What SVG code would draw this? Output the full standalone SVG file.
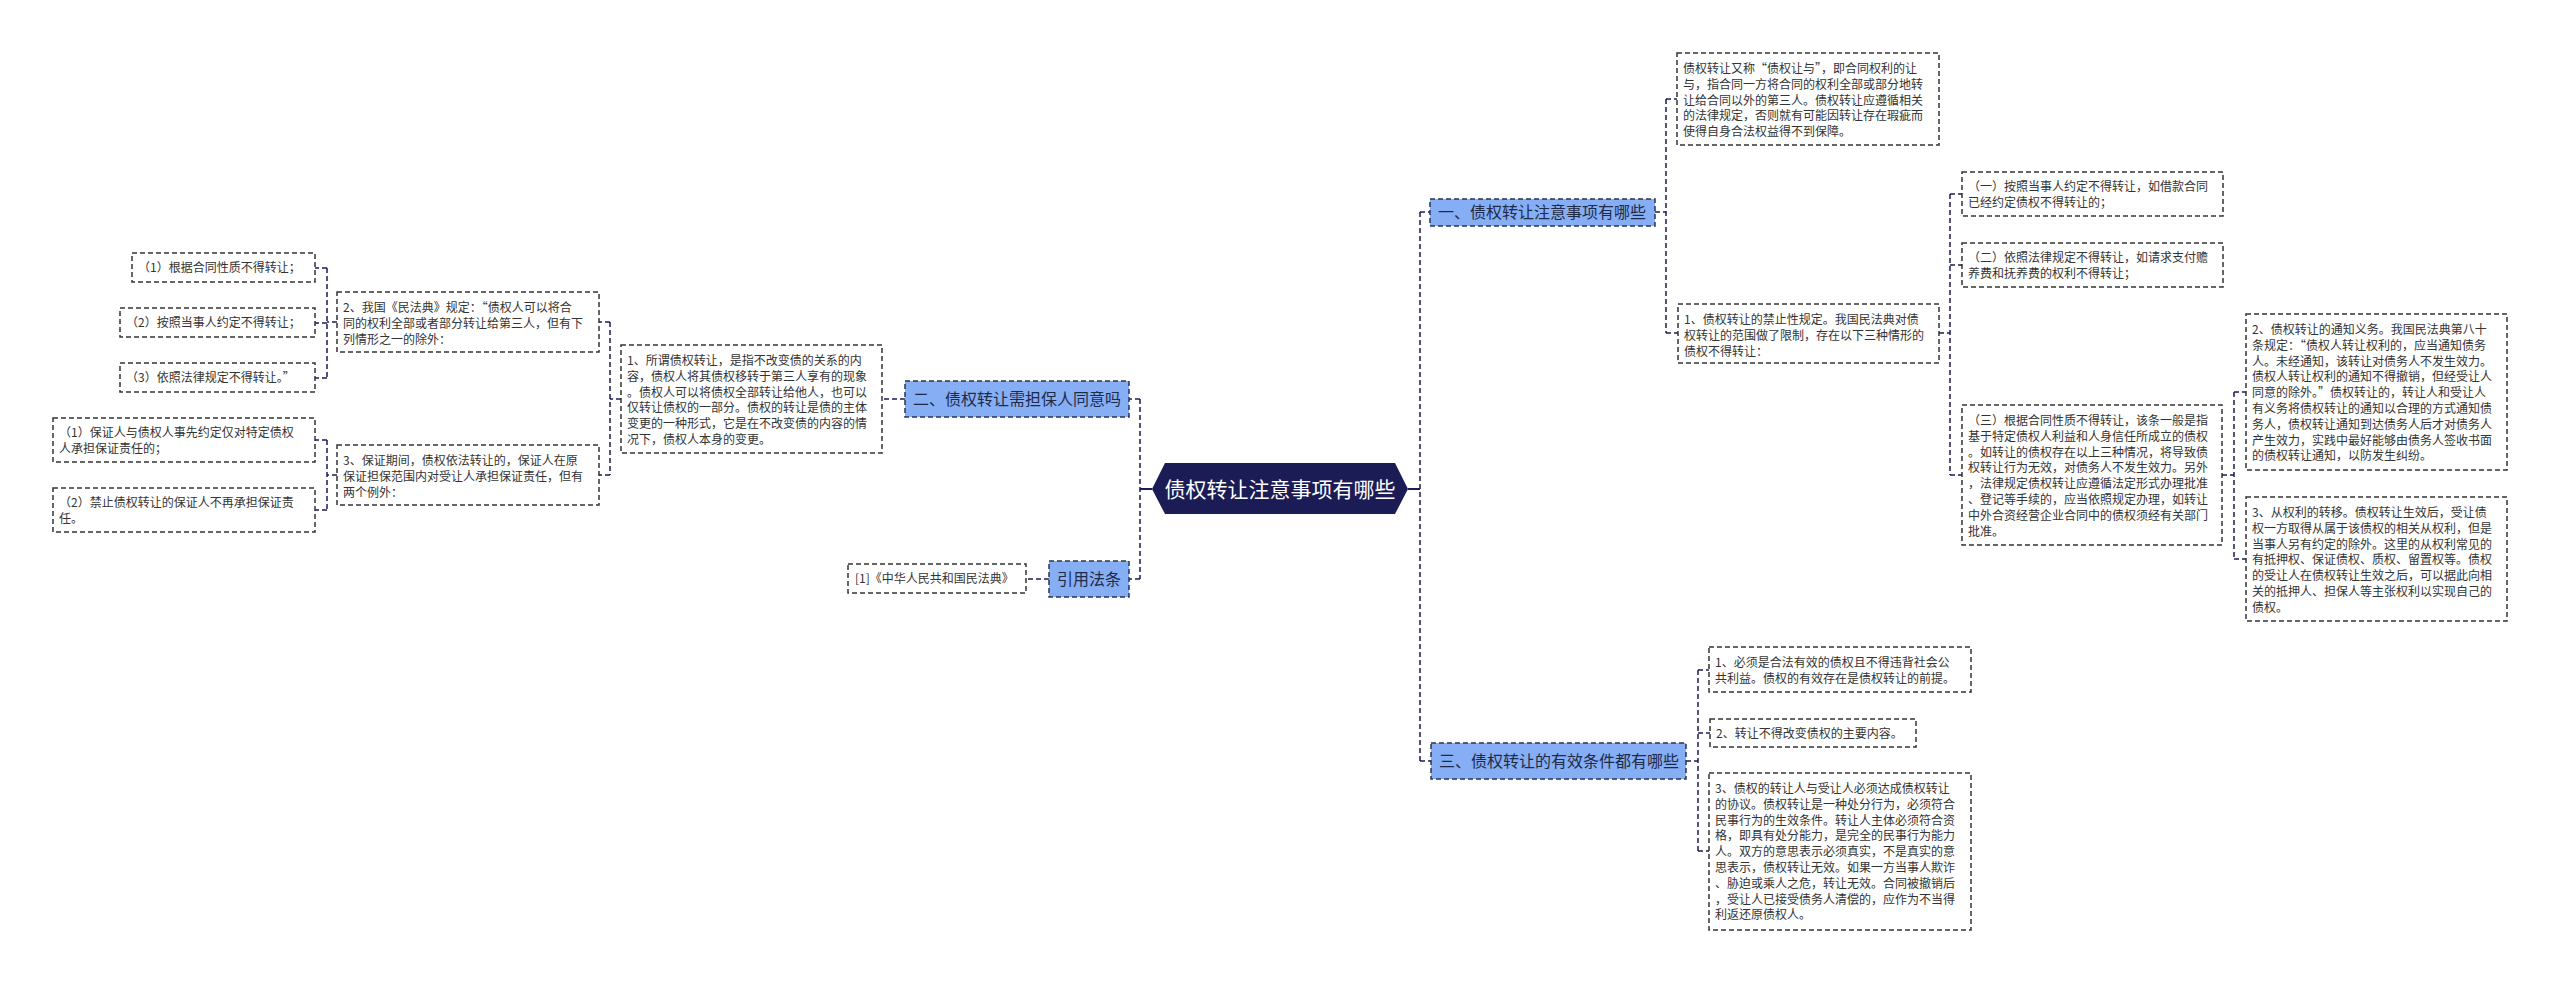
<svg xmlns="http://www.w3.org/2000/svg" width="2560" height="983" viewBox="0 0 2560 983">
<style>
.b{fill:#fff;stroke:#333;stroke-width:1.5;stroke-dasharray:5 3}
.h{fill:#86aef5;stroke:#2a3550;stroke-width:1.5;stroke-dasharray:5 3}
.t{font-family:"Noto Sans CJK SC","Liberation Sans",sans-serif;font-size:12px;fill:#333}
.ht{font-family:"Noto Sans CJK SC","Liberation Sans",sans-serif;font-size:16px;fill:#1f2a48}
.c{fill:none;stroke:#1b1b55;stroke-width:1.5;stroke-dasharray:5 3}
.s{fill:none;stroke:#1b1b55;stroke-width:2}
</style>
<rect width="2560" height="983" fill="#fff"/>
<g id="connectors">
<path class="s" d="M1152 489H1140M1408 489H1420"/>
<path class="c" d="M1140 399V579M1140 399H1129M1140 579H1129"/>
<path class="c" d="M1420 212V761M1420 212H1430M1420 761H1431"/>
<path class="c" d="M1655 212H1666M1666 99V333M1666 99H1677M1666 333H1678"/>
<path class="c" d="M1939 333H1950M1950 194V475M1950 194H1962M1950 265H1962M1950 475H1962"/>
<path class="c" d="M2222 475H2234M2234 392V559M2234 392H2246M2234 559H2246"/>
<path class="c" d="M1686 761H1698M1698 670V851M1698 670H1709M1698 733H1710M1698 851H1709"/>
<path class="c" d="M905 399H882"/>
<path class="c" d="M621 399H610M610 322V475M610 322H599M610 475H599"/>
<path class="c" d="M337 322H327M327 268V378M327 268H315M327 323H315M327 378H315"/>
<path class="c" d="M337 475H327M327 440V510M327 440H315M327 510H315"/>
<path class="c" d="M1049 579H1026"/>
</g>
<g id="root">
<polygon points="1165,463 1395,463 1408,489 1395,514 1165,514 1152,489" fill="#1b1b55"/>
<text x="1280" y="497" text-anchor="middle" font-family="Noto Sans CJK SC,Liberation Sans,sans-serif" font-size="21" fill="#fff">债权转让注意事项有哪些</text>
</g>
<g id="n1"><rect class="h" x="1430" y="199" width="225" height="27"/><text class="ht" x="1438" y="218">一、债权转让注意事项有哪些</text></g>
<g id="n2"><rect class="h" x="905" y="381" width="224" height="36"/><text class="ht" x="913" y="405">二、债权转让需担保人同意吗</text></g>
<g id="n3"><rect class="h" x="1431" y="743" width="255" height="36"/><text class="ht" x="1439" y="767">三、债权转让的有效条件都有哪些</text></g>
<g id="n4"><rect class="h" x="1049" y="561" width="80" height="36"/><text class="ht" x="1057" y="585">引用法条</text></g>
<g id="ref1"><rect class="b" x="848" y="564" width="178" height="29"/><text class="t" x="855" y="583">[1]《中华人民共和国民法典》</text></g>
<g id="A"><rect class="b" x="1677" y="53" width="262" height="92"/><text class="t" x="1683" y="73"><tspan x="1683">债权转让又称“债权让与”，即合同权利的让</tspan><tspan x="1683" dy="15.8">与，指合同一方将合同的权利全部或部分地转</tspan><tspan x="1683" dy="15.8">让给合同以外的第三人。债权转让应遵循相关</tspan><tspan x="1683" dy="15.8">的法律规定，否则就有可能因转让存在瑕疵而</tspan><tspan x="1683" dy="15.8">使得自身合法权益得不到保障。</tspan></text></g>
<g id="B"><rect class="b" x="1678" y="304" width="261" height="59"/><text class="t" x="1684" y="324"><tspan x="1684">1、债权转让的禁止性规定。我国民法典对债</tspan><tspan x="1684" dy="15.8">权转让的范围做了限制，存在以下三种情形的</tspan><tspan x="1684" dy="15.8">债权不得转让：</tspan></text></g>
<g id="B1"><rect class="b" x="1962" y="172" width="261" height="44"/><text class="t" x="1968" y="191"><tspan x="1968">（一）按照当事人约定不得转让，如借款合同</tspan><tspan x="1968" dy="15.8">已经约定债权不得转让的；</tspan></text></g>
<g id="B2"><rect class="b" x="1962" y="243" width="261" height="44"/><text class="t" x="1968" y="262"><tspan x="1968">（二）依照法律规定不得转让，如请求支付赡</tspan><tspan x="1968" dy="15.8">养费和抚养费的权利不得转让；</tspan></text></g>
<g id="B3"><rect class="b" x="1962" y="405" width="260" height="140"/><text class="t" x="1968" y="425"><tspan x="1968">（三）根据合同性质不得转让，该条一般是指</tspan><tspan x="1968" dy="15.8">基于特定债权人利益和人身信任所成立的债权</tspan><tspan x="1968" dy="15.8">。如转让的债权存在以上三种情况，将导致债</tspan><tspan x="1968" dy="15.8">权转让行为无效，对债务人不发生效力。另外</tspan><tspan x="1968" dy="15.8">，法律规定债权转让应遵循法定形式办理批准</tspan><tspan x="1968" dy="15.8">、登记等手续的，应当依照规定办理，如转让</tspan><tspan x="1968" dy="15.8">中外合资经营企业合同中的债权须经有关部门</tspan><tspan x="1968" dy="15.8">批准。</tspan></text></g>
<g id="C1"><rect class="b" x="2246" y="314" width="261" height="156"/><text class="t" x="2252" y="334"><tspan x="2252">2、债权转让的通知义务。我国民法典第八十</tspan><tspan x="2252" dy="15.8">条规定：“债权人转让权利的，应当通知债务</tspan><tspan x="2252" dy="15.8">人。未经通知，该转让对债务人不发生效力。</tspan><tspan x="2252" dy="15.8">债权人转让权利的通知不得撤销，但经受让人</tspan><tspan x="2252" dy="15.8">同意的除外。”债权转让的，转让人和受让人</tspan><tspan x="2252" dy="15.8">有义务将债权转让的通知以合理的方式通知债</tspan><tspan x="2252" dy="15.8">务人，债权转让通知到达债务人后才对债务人</tspan><tspan x="2252" dy="15.8">产生效力，实践中最好能够由债务人签收书面</tspan><tspan x="2252" dy="15.8">的债权转让通知，以防发生纠纷。</tspan></text></g>
<g id="C2"><rect class="b" x="2246" y="497" width="261" height="124"/><text class="t" x="2252" y="517"><tspan x="2252">3、从权利的转移。债权转让生效后，受让债</tspan><tspan x="2252" dy="15.8">权一方取得从属于该债权的相关从权利，但是</tspan><tspan x="2252" dy="15.8">当事人另有约定的除外。这里的从权利常见的</tspan><tspan x="2252" dy="15.8">有抵押权、保证债权、质权、留置权等。债权</tspan><tspan x="2252" dy="15.8">的受让人在债权转让生效之后，可以据此向相</tspan><tspan x="2252" dy="15.8">关的抵押人、担保人等主张权利以实现自己的</tspan><tspan x="2252" dy="15.8">债权。</tspan></text></g>
<g id="D1"><rect class="b" x="1709" y="647" width="262" height="45"/><text class="t" x="1715" y="667"><tspan x="1715">1、必须是合法有效的债权且不得违背社会公</tspan><tspan x="1715" dy="15.8">共利益。债权的有效存在是债权转让的前提。</tspan></text></g>
<g id="D2"><rect class="b" x="1710" y="719" width="206" height="28"/><text class="t" x="1716" y="738">2、转让不得改变债权的主要内容。</text></g>
<g id="D3"><rect class="b" x="1709" y="773" width="262" height="157"/><text class="t" x="1715" y="793"><tspan x="1715">3、债权的转让人与受让人必须达成债权转让</tspan><tspan x="1715" dy="15.8">的协议。债权转让是一种处分行为，必须符合</tspan><tspan x="1715" dy="15.8">民事行为的生效条件。转让人主体必须符合资</tspan><tspan x="1715" dy="15.8">格，即具有处分能力，是完全的民事行为能力</tspan><tspan x="1715" dy="15.8">人。双方的意思表示必须真实，不是真实的意</tspan><tspan x="1715" dy="15.8">思表示，债权转让无效。如果一方当事人欺诈</tspan><tspan x="1715" dy="15.8">、胁迫或乘人之危，转让无效。合同被撤销后</tspan><tspan x="1715" dy="15.8">，受让人已接受债务人清偿的，应作为不当得</tspan><tspan x="1715" dy="15.8">利返还原债权人。</tspan></text></g>
<g id="E"><rect class="b" x="621" y="345" width="261" height="108"/><text class="t" x="627" y="365"><tspan x="627">1、所谓债权转让，是指不改变债的关系的内</tspan><tspan x="627" dy="15.8">容，债权人将其债权移转于第三人享有的现象</tspan><tspan x="627" dy="15.8">。债权人可以将债权全部转让给他人，也可以</tspan><tspan x="627" dy="15.8">仅转让债权的一部分。债权的转让是债的主体</tspan><tspan x="627" dy="15.8">变更的一种形式，它是在不改变债的内容的情</tspan><tspan x="627" dy="15.8">况下，债权人本身的变更。</tspan></text></g>
<g id="F"><rect class="b" x="337" y="292" width="262" height="60"/><text class="t" x="343" y="312"><tspan x="343">2、我国《民法典》规定：“债权人可以将合</tspan><tspan x="343" dy="15.8">同的权利全部或者部分转让给第三人，但有下</tspan><tspan x="343" dy="15.8">列情形之一的除外：</tspan></text></g>
<g id="G"><rect class="b" x="337" y="445" width="262" height="60"/><text class="t" x="343" y="465"><tspan x="343">3、保证期间，债权依法转让的，保证人在原</tspan><tspan x="343" dy="15.8">保证担保范围内对受让人承担保证责任，但有</tspan><tspan x="343" dy="15.8">两个例外：</tspan></text></g>
<g id="F1"><rect class="b" x="132" y="253" width="183" height="29"/><text class="t" x="138" y="272">（1）根据合同性质不得转让；</text></g>
<g id="F2"><rect class="b" x="120" y="308" width="195" height="29"/><text class="t" x="126" y="327">（2）按照当事人约定不得转让；</text></g>
<g id="F3"><rect class="b" x="120" y="363" width="195" height="29"/><text class="t" x="126" y="382">（3）依照法律规定不得转让。”</text></g>
<g id="G1"><rect class="b" x="53" y="418" width="262" height="44"/><text class="t" x="59" y="437"><tspan x="59">（1）保证人与债权人事先约定仅对特定债权</tspan><tspan x="59" dy="15.8">人承担保证责任的；</tspan></text></g>
<g id="G2"><rect class="b" x="53" y="488" width="262" height="44"/><text class="t" x="59" y="507"><tspan x="59">（2）禁止债权转让的保证人不再承担保证责</tspan><tspan x="59" dy="15.8">任。</tspan></text></g>
</svg>
